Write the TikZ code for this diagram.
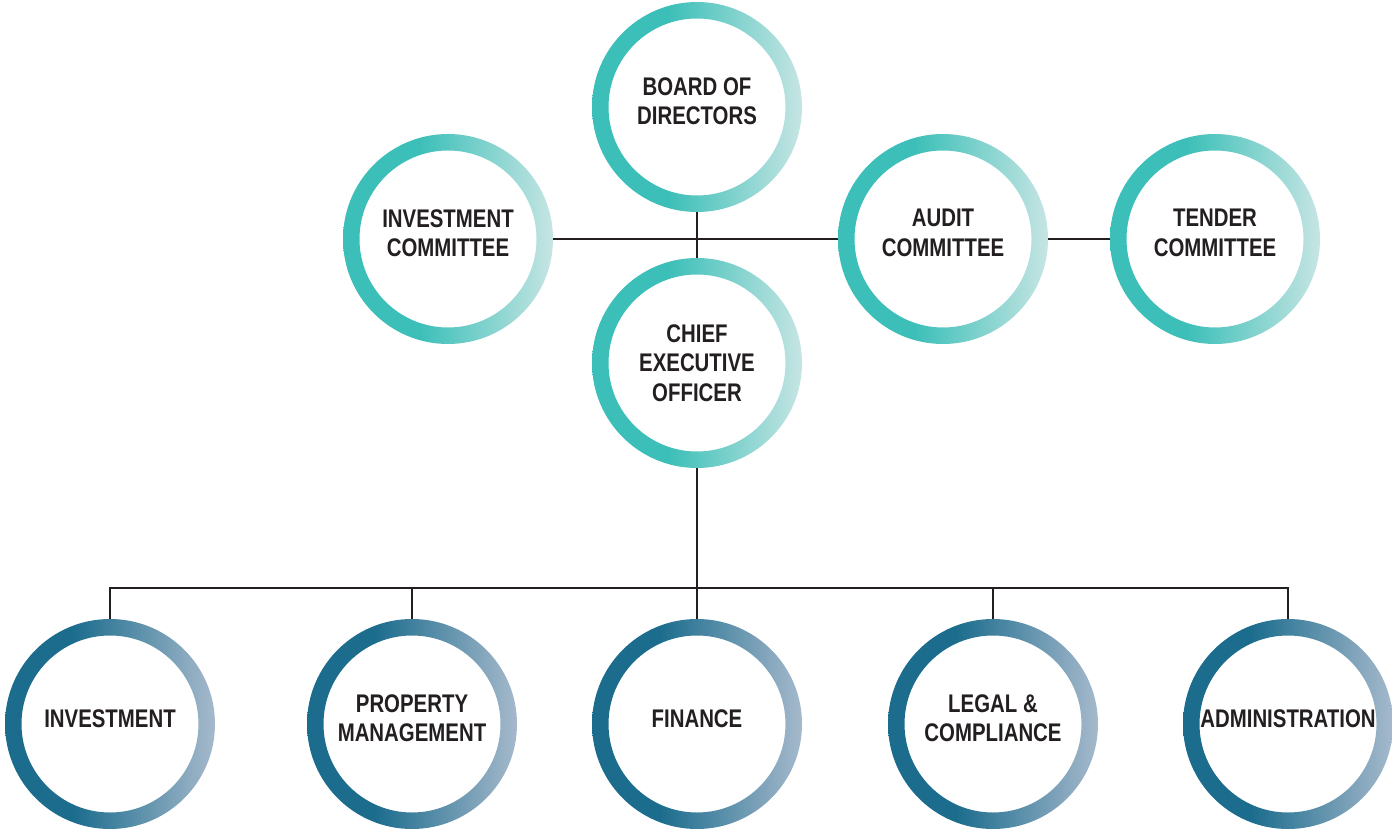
\documentclass[tikz,border=0pt]{standalone}
\usepackage{fontspec}
\setmainfont{Liberation Sans}[FakeStretch=0.8]
\definecolor{tealA}{HTML}{3BBFB8}
\definecolor{tealB}{HTML}{C6E5E3}
\definecolor{blueA}{HTML}{1B6C8D}
\definecolor{blueB}{HTML}{A6B9CC}
\definecolor{txt}{HTML}{231F20}
\pgfdeclarehorizontalshading{tealring}{100bp}{color(0bp)=(tealA); color(25bp)=(tealA); color(43bp)=(tealA); color(75bp)=(tealB); color(100bp)=(tealB)}
\pgfdeclarehorizontalshading{bluering}{100bp}{color(0bp)=(blueA); color(25bp)=(blueA); color(41bp)=(blueA); color(75bp)=(blueB); color(100bp)=(blueB)}
\tikzset{
  lbl/.style={font=\bfseries\fontsize{25.5}{29.5}\selectfont, text=txt, align=center, inner sep=0pt},
  ringc/.style={circle, minimum size=210pt, inner sep=0pt},
  conn/.style={line width=1.5pt, draw=txt},
}
\newcommand{\ringnode}[5][6]{%
  \shade[even odd rule, shading=#5] (#3) circle (105) (#3) circle (88.5);
  \node[ringc] (#2) at (#3) {};
  \node[lbl, yshift=#1pt] (#2-t) at (#3) {#4};
}
\begin{document}
\begin{tikzpicture}[x=1pt,y=-1pt]
\useasboundingbox (0,0) rectangle (1392,829);
\ringnode{board}{697,107}{BOARD OF\\DIRECTORS}{tealring}
\ringnode{invc}{448,239}{INVESTMENT\\COMMITTEE}{tealring}
\ringnode{audit}{943,239}{AUDIT\\COMMITTEE}{tealring}
\ringnode{tender}{1215,239}{TENDER\\COMMITTEE}{tealring}
\ringnode[0]{ceo}{697,363}{CHIEF\\EXECUTIVE\\OFFICER}{tealring}
\ringnode[5]{inv}{110,724}{INVESTMENT}{bluering}
\ringnode{prop}{412,724}{PROPERTY\\MANAGEMENT}{bluering}
\ringnode[5]{fin}{697,724}{FINANCE}{bluering}
\ringnode{legal}{993,724}{LEGAL \&\\COMPLIANCE}{bluering}
\ringnode[5]{admin}{1288,724}{ADMINISTRATION}{bluering}
\coordinate (bus) at (697,588);
\draw[conn] (invc.east) -- (audit.west);
\draw[conn] (audit.east) -- (tender.west);
\draw[conn] (board.south) -- (ceo.north);
\draw[conn] (ceo.south) -- (bus);
\draw[conn] (inv.north) |- (bus);
\draw[conn] (admin.north) |- (bus);
\draw[conn] (prop.north) -- (prop.north |- bus);
\draw[conn] (fin.north) -- (bus);
\draw[conn] (legal.north) -- (legal.north |- bus);
\end{tikzpicture}
\end{document}
